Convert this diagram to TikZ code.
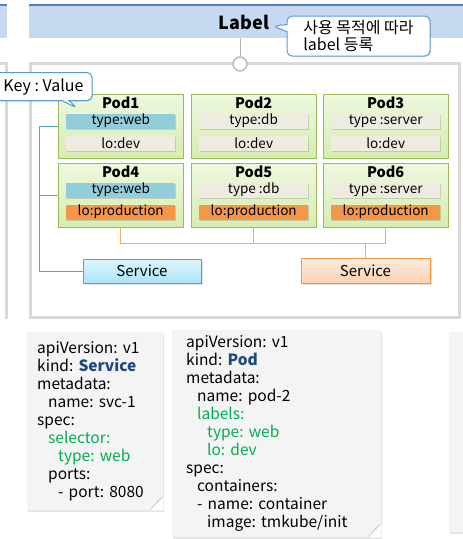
\documentclass[tikz,border=0pt]{standalone}
\usepackage{fontspec}
\setmainfont{Noto Sans CJK KR}
\usetikzlibrary{positioning,shapes.callouts,shadows}
\frenchspacing

\definecolor{headblue}{HTML}{C6D9F1}
\definecolor{lineblue}{HTML}{4F81BD}
\definecolor{calloutblue}{HTML}{5B9BD5}
\definecolor{framegray}{HTML}{D9D9D9}
\definecolor{podtop}{HTML}{EEF8DF}
\definecolor{podbottom}{HTML}{D5EDB0}
\definecolor{podborder}{HTML}{9BBB59}
\definecolor{webblue}{HTML}{92CDDC}
\definecolor{beige}{HTML}{EEECE1}
\definecolor{prodorange}{HTML}{F79646}
\definecolor{svcborder}{HTML}{4BACC6}
\definecolor{svcbluetop}{HTML}{DDF5FD}
\definecolor{svcbluebottom}{HTML}{ADE5F7}
\definecolor{svcorangetop}{HTML}{FEEDE0}
\definecolor{svcorangebottom}{HTML}{FBD2B2}
\definecolor{textgreen}{HTML}{00B050}
\definecolor{kindblue}{HTML}{1F497D}
\definecolor{notegray}{HTML}{F4F4F4}

\tikzset{
    pod/.style={draw=podborder, top color=podtop, bottom color=podbottom, minimum width=125pt, minimum height=64pt, inner sep=0pt, anchor=north west, drop shadow={shadow xshift=1pt, shadow yshift=-1pt, opacity=0.25}},
    lbl/.style={minimum width=109pt, minimum height=15pt, inner sep=0pt, font=\fontsize{13.5}{14}\selectfont, drop shadow={shadow xshift=1pt, shadow yshift=-1pt, opacity=0.3}},
    svc/.style={draw, line width=1pt, minimum height=24pt, inner sep=0pt, font=\fontsize{15}{16}\selectfont, drop shadow={shadow xshift=1.5pt, shadow yshift=-1.5pt, opacity=0.25}},
    bubble/.style={rectangle callout, rounded corners=5pt, draw=calloutblue, line width=1pt, fill=white, drop shadow={shadow xshift=1pt, shadow yshift=-1pt, opacity=0.25}},
    note/.style={fill=notegray, anchor=north west, align=left, inner ysep=0pt, font=\fontsize{15.5}{18}\selectfont, drop shadow={shadow xshift=1pt, shadow yshift=-1.5pt, opacity=0.2}},
    link/.style={line width=1pt}
}

\newcommand{\fold}[1]{%
    \fill[white] ([xshift=-14pt]#1.south east) -- (#1.south east) -- ([yshift=14pt]#1.south east) -- cycle;
    \draw[gray!45, fill=gray!8] ([xshift=-14pt]#1.south east) -- ([xshift=-4pt,yshift=11pt]#1.south east) -- ([yshift=14pt]#1.south east) -- cycle;
}

\begin{document}
\begin{tikzpicture}[x=1pt,y=-1pt]

    \useasboundingbox (0,0) rectangle (463,539);

    % Header band
    \fill[headblue] (0,5) rectangle (7,38);
    \fill[headblue] (29,5) rectangle (463,38);
    \draw[lineblue, line width=2pt] (0,5) -- (7,5);
    \draw[lineblue, line width=2pt] (29,5) -- (463,5);
    \node[font=\bfseries\fontsize{18}{20}\selectfont] (label) at (244,22) {Label};

    % Frames
    \draw[framegray, line width=3pt] (0,63) -| (6,319);
    \draw[framegray, line width=3pt] (30,63) rectangle (459,317);

    % Pin on the frame
    \coordinate (headbottom) at (240,38);
    \node[circle, draw=gray!60, line width=1.2pt, fill=white, minimum size=14pt, inner sep=0pt] (pin) at (240,64) {};
    \draw[gray!60, line width=1pt] (headbottom) -- (pin);

    % Pods with their labels
    \foreach \i/\x/\y/\tp/\tc/\lo/\lc in {
        1/58/94/type:web/webblue/lo:dev/beige,
        2/191/94/type:db/beige/lo:dev/beige,
        3/323/94/type :server/beige/lo:dev/beige,
        4/58/163/type:web/webblue/lo:production/prodorange,
        5/191/163/type :db/beige/lo:production/prodorange,
        6/323/163/type :server/beige/lo:production/prodorange} {
        \node[pod] (pod\i) at (\x,\y) {};
        \node[font=\bfseries\fontsize{14.5}{16}\selectfont] (title\i) at ([yshift=-8.5pt]pod\i.north) {Pod\i};
        \node[lbl, fill=\tc] (type\i) at ([yshift=-27pt]pod\i.north) {\tp};
        \node[lbl, fill=\lc] (lo\i) at ([yshift=-49pt]pod\i.north) {\lo};
    }

    % Services
    \node[svc, draw=svcborder, top color=svcbluetop, bottom color=svcbluebottom, minimum width=118pt] (svcweb) at (142,271) {Service};
    \node[svc, draw=prodorange, top color=svcorangetop, bottom color=svcorangebottom, minimum width=129pt, minimum height=25pt] (svcprod) at (365.5,270.5) {Service};

    % Selector links
    \draw[link, svcborder] (pod1.west) -- ++(-19,0) |- (svcweb.west);
    \draw[link, svcborder] (pod4.west) -- ++(-19,0);
    \draw[link, prodorange!80] (pod4.south) -- ++(0,16) -| (pod6.south);
    \draw[link, prodorange!80] (pod5.south) -- ++(0,16);
    \draw[link, prodorange!80] (svcprod.north) -- ++(0,-15);

    % Callouts
    \node[bubble, minimum width=143pt, minimum height=40pt, align=left, font=\fontsize{16}{17}\selectfont, callout absolute pointer={(273,26)}] (purpose) at (358.5,36) {사용 목적에 따라\\label 등록};
    \node[bubble, minimum width=97pt, minimum height=28pt, font=\fontsize{16}{18}\selectfont, callout absolute pointer={(77,108)}] (keyval) at (43.5,86.5) {Key : Value};

    % YAML notes
    \node[note, text width=116pt, inner xsep=10pt, minimum height=178pt] (svcnote) at (27,332) {apiVersion: v1\\
        kind: \textcolor{kindblue}{\bfseries Service}\\
        metadata:\\
        \hspace*{11pt}name: svc-1\\
        spec:\\
        \hspace*{11pt}\textcolor{textgreen}{selector:}\\
        \hspace*{21pt}\textcolor{textgreen}{type: web}\\
        \hspace*{11pt}ports:\\
        \hspace*{21pt}- port: 8080};
    \node[note, text width=181pt, inner xsep=14pt, minimum height=207pt] (podnote) at (172,330) {apiVersion: v1\\
        kind: \textcolor{kindblue}{\bfseries Pod}\\
        metadata:\\
        \hspace*{11pt}name: pod-2\\
        \hspace*{11pt}\textcolor{textgreen}{labels:}\\
        \hspace*{21pt}\textcolor{textgreen}{type: web}\\
        \hspace*{21pt}\textcolor{textgreen}{lo: dev}\\
        spec:\\
        \hspace*{11pt}containers:\\
        \hspace*{11pt}- name: container\\
        \hspace*{21pt}image: tmkube/init};
    \node[note, minimum width=20pt, minimum height=200pt] (nextnote) at (449,332) {};
    \fold{svcnote}
    \fold{podnote}

\end{tikzpicture}
\end{document}
